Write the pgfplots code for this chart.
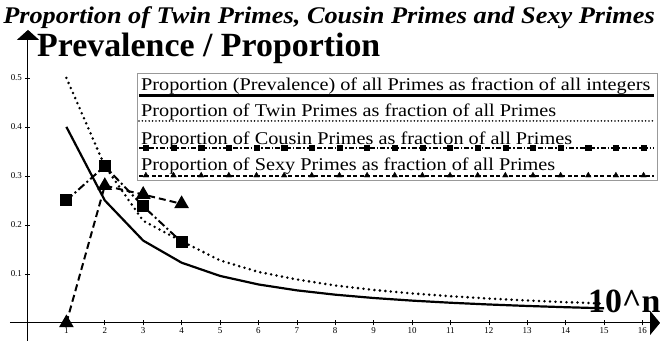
\documentclass[border=0pt]{standalone}
\usepackage{fontspec}
\setmainfont{Liberation Serif}
\usepackage{pgfplots}
\pgfplotsset{compat=1.18}
\usetikzlibrary{arrows.meta}

\begin{document}
\begin{tikzpicture}
  \begin{axis}[
      x=38.4bp, y=490bp,
      xmin=-0.47, xmax=16.46, ymin=-0.037, ymax=0.598,
      axis lines=middle,
      axis line style={black, line width=1bp},
      x axis line style={-{Triangle[width=24bp,length=10bp]}},
      y axis line style={-{Triangle[width=22bp,length=10bp]}},
      xtick={1,2,...,16},
      ytick={0.1,0.2,0.3,0.4,0.5},
      yticklabels={0.1,0.2,0.3,0.4,0.5},
      tick align=center,
      major tick length=5bp,
      tick style={black, line width=0.6bp},
      tick label style={font=\fontsize{9}{10}\selectfont},
      /pgf/number format/assume math mode=true,
      xticklabel style={yshift=1bp},
      clip=false,
    ]

    % bounding box corners (whole picture)
    \coordinate (bbll) at (axis cs:-0.729,-0.0367);
    \coordinate (bbur) at (axis cs:16.458,0.659);

    % all primes / all integers
    \addplot[black, line width=2.2bp] coordinates {
      (1,0.4) (2,0.25) (3,0.168) (4,0.1229) (5,0.09592) (6,0.078498)
      (7,0.066458) (8,0.057615) (9,0.050848) (10,0.045505) (11,0.041181)
      (12,0.037608) (13,0.034607) (14,0.032049) (15,0.029845)};

    % twin primes / all primes
    \addplot[black, line width=2.8bp, line cap=round, dash pattern=on 0bp off 5.5bp]
      coordinates {
      (1,0.5) (2,0.32) (3,0.2083) (4,0.1668) (5,0.1276) (6,0.1041)
      (7,0.0887) (8,0.0764) (9,0.0673) (10,0.0602) (11,0.0545)
      (12,0.0497) (13,0.0458) (14,0.0424) (15,0.0394)};

    % cousin primes
    \addplot[black, line width=2bp, dash pattern=on 8bp off 3bp on 2bp off 3bp,
      mark=square*, mark size=5bp, mark options={solid}]
      coordinates {(1,0.25) (2,0.32) (3,0.238) (4,0.165)};

    % sexy primes
    \addplot[black, line width=2bp, dash pattern=on 7bp off 4bp,
      mark=triangle*, mark size=6.5bp, mark options={solid}]
      coordinates {(1,0) (2,0.28) (3,0.262) (4,0.243)};

    % legend box
    \draw[gray!80, line width=1bp, fill=white]
      (axis cs:2.84,0.5082) rectangle (axis cs:16.38,0.2898);

    \addplot[black, line width=3bp, forget plot] coordinates {(2.89,0.4633) (16.30,0.4633)};
    \addplot[black, line width=1.8bp, line cap=round, dash pattern=on 0bp off 3.4bp, forget plot]
      coordinates {(2.89,0.4122) (16.30,0.4122)};
    \addplot[black, line width=1.2bp, dash pattern=on 5bp off 2bp on 1.5bp off 2bp, forget plot]
      coordinates {(2.89,0.3571) (16.30,0.3571)};
    \addplot[black, only marks, mark=square*, mark size=2.6bp, forget plot] coordinates {
      (3.07,0.3571) (3.79,0.3571) (4.51,0.3571) (5.23,0.3571) (5.95,0.3571)
      (6.67,0.3571) (7.39,0.3571) (8.11,0.3571) (8.83,0.3571) (9.55,0.3571)
      (10.27,0.3571) (10.99,0.3571) (11.71,0.3571) (12.43,0.3571) (13.15,0.3571)
      (13.87,0.3571) (14.59,0.3571) (15.31,0.3571) (16.03,0.3571)};
    \addplot[black, line width=1.2bp, dash pattern=on 4bp off 2.5bp, forget plot]
      coordinates {(2.89,0.300) (16.30,0.300)};
    \addplot[black, only marks, mark=triangle*, mark size=3.2bp, forget plot] coordinates {
      (3.07,0.301) (3.79,0.301) (4.51,0.301) (5.23,0.301) (5.95,0.301)
      (6.67,0.301) (7.39,0.301) (8.11,0.301) (8.83,0.301) (9.55,0.301)
      (10.27,0.301) (10.99,0.301) (11.71,0.301) (12.43,0.301) (13.15,0.301)
      (13.87,0.301) (14.59,0.301) (15.31,0.301) (16.03,0.301)};

    \begin{scope}[every node/.style={anchor=base west, inner sep=0pt, xscale=1.13,
        font=\fontsize{18}{20}\selectfont}]
      \node at (axis cs:2.94,0.474) {Proportion (Prevalence) of all Primes as fraction of all integers};
      \node at (axis cs:2.94,0.421) {Proportion of Twin Primes as fraction of all Primes};
      \node at (axis cs:2.94,0.365) {Proportion of Cousin Primes as fraction of all Primes};
      \node at (axis cs:2.94,0.311) {Proportion of Sexy Primes as fraction of all Primes};
    \end{scope}

    % titles and axis names
    \node[anchor=base, inner sep=0pt, xscale=1.1, font=\fontsize{24}{26}\selectfont\bfseries\itshape]
      at (axis cs:7.84,0.612) {Proportion of Twin Primes, Cousin Primes and Sexy Primes};
    \node[anchor=base west, inner sep=0pt, font=\fontsize{34}{36}\selectfont\bfseries]
      at (axis cs:0.234,0.543) {Prevalence / Proportion};
    \node[anchor=base west, inner sep=0pt, font=\fontsize{34}{36}\selectfont\bfseries]
      at (axis cs:14.58,0.0204) {10\textasciicircum n};
  \end{axis}
  \pgfresetboundingbox
  \useasboundingbox (bbll) rectangle (bbur);
\end{tikzpicture}
\end{document}
